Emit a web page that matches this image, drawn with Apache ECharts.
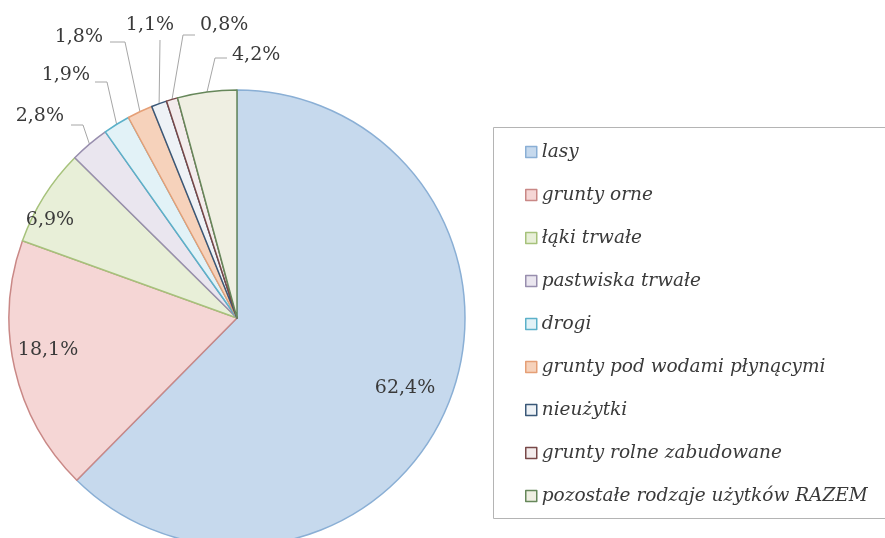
<!DOCTYPE html>
<html>
<head>
<meta charset="utf-8">
<script src="https://cdn.jsdelivr.net/npm/echarts@6/dist/echarts.min.js"></script>
<style>
  html, body { margin: 0; padding: 0; background: #fff; }
  #chart { width: 885px; height: 538px; }
</style>
</head>
<body>
<div id="chart"></div>
<script>
const categories = [
  'lasy',
  'grunty orne',
  'łąki trwałe',
  'pastwiska trwałe',
  'drogi',
  'grunty pod wodami płynącymi',
  'nieużytki',
  'grunty rolne zabudowane',
  'pozostałe rodzaje użytków RAZEM'
]
const shares = [62.4, 18.1, 6.9, 2.8, 1.9, 1.8, 1.1, 0.8, 4.2]

const fills = ['#c6d9ed', '#f5d6d5', '#e8efd8', '#eae6ef', '#e2f2f7', '#f6d2bb', '#eef2f6', '#f3ecec', '#efefe2']
const borders = ['#8aafd5', '#c98886', '#a6c27b', '#988eae', '#5cb1c9', '#e59f76', '#3a5878', '#784848', '#66875a']

const CX = 237
const CY = 318
const R = 228

// where each percentage label sits; outside ones also get a bend + end for the leader line
const labelSpots = [
  { x: 405, y: 388, align: 'center' },
  { x: 48, y: 350, align: 'center' },
  { x: 50, y: 220, align: 'center' },
  { x: 64, y: 116, align: 'right', line: [[83, 125], [71, 125]] },
  { x: 90, y: 75, align: 'right', line: [[107, 82], [95, 82]] },
  { x: 103, y: 37, align: 'right', line: [[125, 42], [110, 42]] },
  { x: 150, y: 25, align: 'center', line: [[160, 40], [160, 40]] },
  { x: 200, y: 25, align: 'left', line: [[183, 35], [195, 35]] },
  { x: 232, y: 55, align: 'left', line: [[215, 58], [227, 58]] }
]

const total = shares.reduce((s, v) => s + v, 0)
function arcPoint(idx) {
  const before = shares.slice(0, idx).reduce((s, v) => s + v, 0)
  const mid = ((before + shares[idx] / 2) / total) * Math.PI * 2
  return [CX + R * Math.sin(mid), CY - R * Math.cos(mid)]
}

const chart = echarts.init(document.getElementById('chart'))

const option = {
  animation: false,
  backgroundColor: '#ffffff',
  textStyle: { fontFamily: 'DejaVu Serif' },
  graphic: [
    {
      type: 'rect',
      z: -1,
      shape: { x: 493.5, y: 127.5, width: 400, height: 391 },
      style: { fill: 'none', stroke: '#b4b4b4', lineWidth: 1 }
    }
  ],
  legend: {
    orient: 'vertical',
    left: 520,
    top: 137,
    itemWidth: 11,
    itemHeight: 11,
    itemGap: 23,
    icon: 'rect',
    itemStyle: { borderWidth: 1.5 },
    textStyle: {
      fontFamily: 'DejaVu Serif',
      fontStyle: 'italic',
      fontSize: 18.5,
      lineHeight: 20,
      color: '#3a3a3a'
    },
    data: categories
  },
  series: [
    {
      type: 'pie',
      center: [CX, CY],
      radius: R,
      startAngle: 90,
      clockwise: true,
      avoidLabelOverlap: false,
      itemStyle: { borderWidth: 1.5 },
      label: {
        show: true,
        position: 'outside',
        fontFamily: 'DejaVu Serif',
        fontSize: 19,
        color: '#3a3a3a',
        formatter: (p) => p.value.toFixed(1).replace('.', ',') + '%'
      },
      labelLine: {
        show: true,
        lineStyle: { color: '#a6a6a6', width: 1 }
      },
      labelLayout: (params) => {
        const spot = labelSpots[params.dataIndex]
        const res = { x: spot.x, y: spot.y, align: spot.align, verticalAlign: 'middle' }
        if (spot.line) {
          res.labelLinePoints = [arcPoint(params.dataIndex), spot.line[0], spot.line[1]]
        }
        return res
      },
      emphasis: { disabled: true },
      data: categories.map((name, i) => ({
        name,
        value: shares[i],
        itemStyle: { color: fills[i], borderColor: borders[i] },
        label: i < 3 ? { position: 'inside' } : undefined,
        labelLine: i < 3 ? { show: false } : undefined
      }))
    }
  ]
}

chart.setOption(option)
</script>
</body>
</html>
